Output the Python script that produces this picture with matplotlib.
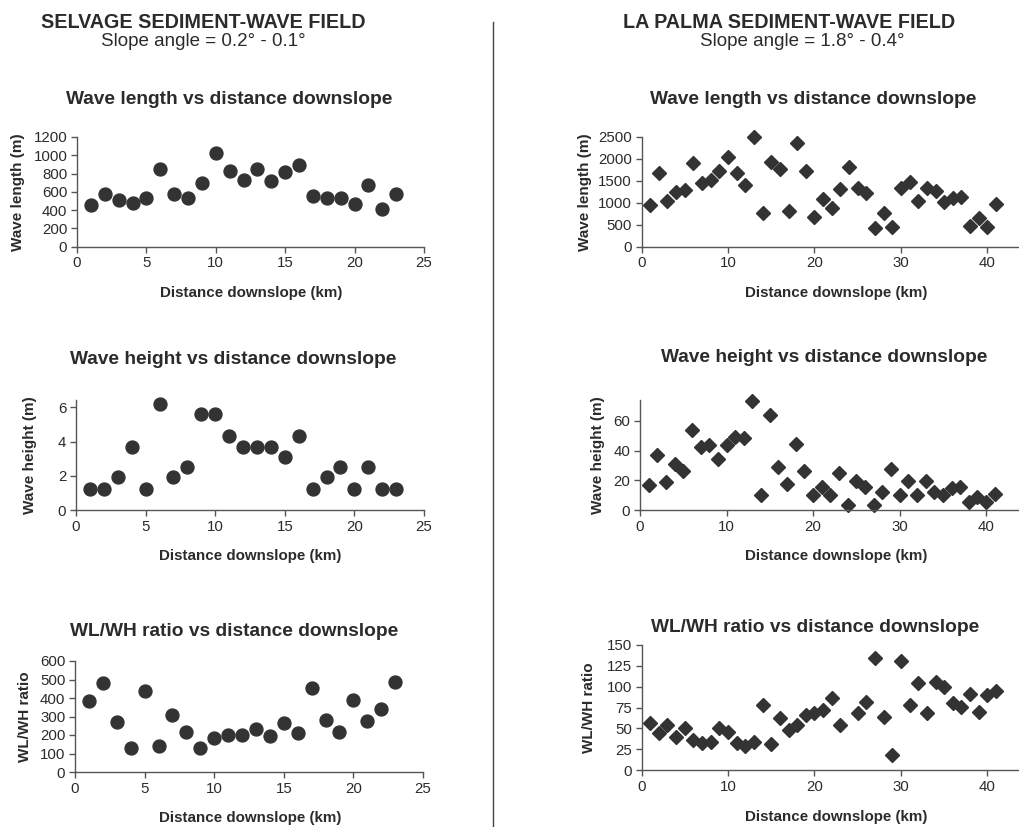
import matplotlib
matplotlib.use("Agg")
import matplotlib.pyplot as plt
from matplotlib.lines import Line2D

plt.rcParams['font.family'] = ['Liberation Sans', 'DejaVu Sans']

# Selvage sediment-wave field (km 1..23)
selvage_km = list(range(1, 24))
selvage_wl = [460, 580, 510, 475, 530, 850, 580, 530, 700, 1020, 830, 730,
              850, 715, 820, 890, 550, 535, 535, 465, 680, 410, 580]
selvage_wh = [1.2, 1.2, 1.9, 3.7, 1.2, 6.2, 1.9, 2.5, 5.6, 5.6, 4.3, 3.7,
              3.7, 3.7, 3.1, 4.3, 1.2, 1.9, 2.5, 1.2, 2.5, 1.2, 1.2]
selvage_ratio = [386, 480, 270, 130, 438, 139, 306, 217, 128, 183, 199, 201,
                 231, 196, 267, 210, 454, 279, 217, 388, 278, 343, 484]

# La Palma sediment-wave field (km 1..41)
palma_km = list(range(1, 42))
palma_wl = [950, 1667, 1040, 1250, 1290, 1895, 1455, 1515, 1720, 2045, 1667,
            1400, 2485, 775, 1930, 1760, 820, 2350, 1720, 680, 1075, 870,
            1310, 1820, 1325, 1225, 415, 775, 455, 1325, 1480, 1045, 1325,
            1275, 1020, 1100, 1135, 470, 645, 455, 970]
palma_wh = [17, 37, 19, 31, 26, 53.5, 42.5, 44, 34.5, 44, 49, 48.3, 73.5,
            10.3, 64, 29, 17.3, 44.3, 26.5, 10.3, 15.7, 10.3, 24.7, 3.4, 19.3,
            15.5, 3.4, 12.1, 27.6, 10.3, 19.8, 10.3, 19.8, 12.4, 10.3, 14.6,
            15.7, 5.2, 8.5, 5.6, 10.6]
# km 24 ratio is off the top of the scale, so it is not in the list
palma_ratio_km = [k for k in palma_km if k != 24]
palma_ratio = [56, 44, 54, 40, 50, 36, 33, 34, 51, 46, 33, 29, 34, 78, 31,
               62, 48, 54, 66, 68, 72, 87, 54, 69, 82, 135, 64, 18, 131, 78,
               104, 69, 106, 100, 81, 76, 91, 70, 90, 95]

W, H = 1019, 827
ink = '#2b2b2b'
axis_col = '#555555'

fig = plt.figure(figsize=(W / 100, H / 100), dpi=100)


def add_panel(x0, x1, ybot, ytop, xlim, ylim, xticks, yticks):
    ax = fig.add_axes([x0 / W, 1 - ybot / H, (x1 - x0) / W, (ybot - ytop) / H])
    ax.set_xlim(*xlim)
    ax.set_ylim(*ylim)
    ax.set_xticks(xticks)
    ax.set_yticks(yticks)
    for s in ['top', 'right']:
        ax.spines[s].set_visible(False)
    for s in ['left', 'bottom']:
        ax.spines[s].set_color(axis_col)
        ax.spines[s].set_linewidth(1.0)
    ax.tick_params(colors=axis_col, labelcolor=ink, labelsize=10.8,
                   length=4, width=1.0, direction='out', pad=3)
    return ax


def ftext(x, y, s, **kw):
    kw.setdefault('color', ink)
    fig.text(x / W, 1 - y / H, s, ha='center', va='center', **kw)


circle = dict(marker='o', linestyle='none', markersize=9.3,
              color='#333333', clip_on=False)
diamond = dict(marker='D', linestyle='none', markersize=6.9,
               color='#333333', clip_on=False)

# left column
ax = add_panel(77, 424, 246.7, 137, (0, 25), (0, 1200), range(0, 26, 5), range(0, 1201, 200))
ax.plot(selvage_km, selvage_wl, **circle)
ax = add_panel(76, 424, 510, 400, (0, 25), (0, 6.43), range(0, 26, 5), range(0, 7, 2))
ax.plot(selvage_km, selvage_wh, **circle)
ax = add_panel(75, 423, 772, 661, (0, 25), (0, 600), range(0, 26, 5), range(0, 601, 100))
ax.plot(selvage_km, selvage_ratio, **circle)

# right column
ax = add_panel(641.5, 1019, 246.7, 136.7, (0, 43.65), (0, 2500), range(0, 41, 10), range(0, 2501, 500))
ax.plot(palma_km, palma_wl, **diamond)
ax = add_panel(640, 1019, 510, 400, (0, 43.8), (0, 74), range(0, 41, 10), range(0, 61, 20))
ax.plot(palma_km, palma_wh, **diamond)
ax = add_panel(641.5, 1019, 770, 645, (0, 43.65), (0, 150), range(0, 41, 10), range(0, 151, 25))
ax.plot(palma_ratio_km, palma_ratio, **diamond)

# headings
ftext(203, 23, 'SELVAGE SEDIMENT-WAVE FIELD', fontsize=14.2, fontweight='bold')
ftext(203, 42, 'Slope angle = 0.2\u00b0 - 0.1\u00b0', fontsize=13.5)
ftext(789, 23, 'LA PALMA SEDIMENT-WAVE FIELD', fontsize=14.2, fontweight='bold')
ftext(802, 42, 'Slope angle = 1.8\u00b0 - 0.4\u00b0', fontsize=13.5)

# panel titles
ftext(229, 100, 'Wave length vs distance downslope', fontsize=13.8, fontweight='bold')
ftext(233, 359, 'Wave height vs distance downslope', fontsize=13.8, fontweight='bold')
ftext(234, 632, 'WL/WH ratio vs distance downslope', fontsize=13.8, fontweight='bold')
ftext(813, 100, 'Wave length vs distance downslope', fontsize=13.8, fontweight='bold')
ftext(824, 358, 'Wave height vs distance downslope', fontsize=13.8, fontweight='bold')
ftext(815, 627, 'WL/WH ratio vs distance downslope', fontsize=13.8, fontweight='bold')

# axis labels
for x, y in [(251, 293), (250, 556), (250, 818), (836, 293), (836, 556), (836, 817)]:
    ftext(x, y, 'Distance downslope (km)', fontsize=10.9, fontweight='bold')
for x, y, s in [(18, 192, 'Wave length (m)'), (30, 455, 'Wave height (m)'),
                (25, 717, 'WL/WH ratio'), (585, 192, 'Wave length (m)'),
                (598, 455, 'Wave height (m)'), (589, 708, 'WL/WH ratio')]:
    ftext(x, y, s, fontsize=11, fontweight='bold', rotation=90)

# divider between the two fields
fig.add_artist(Line2D([493 / W, 493 / W], [1 - 22 / H, 0], color='#444444', linewidth=1.0))

fig.savefig('out.png', dpi=100)
